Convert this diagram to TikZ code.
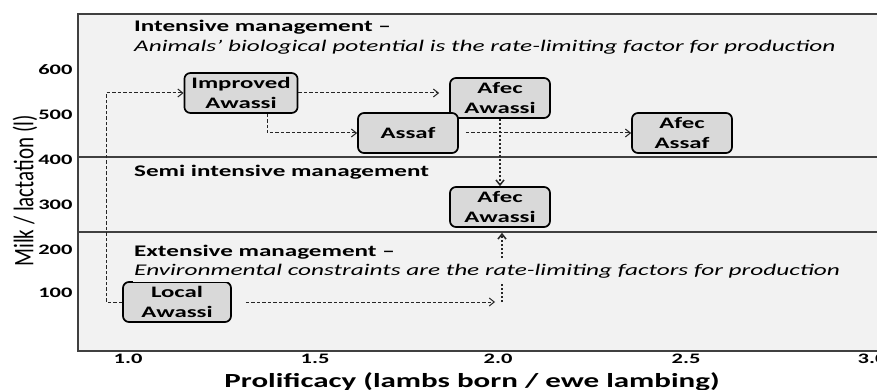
\documentclass[tikz,border=0pt]{standalone}
\usepackage{fontspec}
\setmainfont{Carlito}[FakeStretch=1.55]
\newfontfamily\plainfont{Carlito}
\usepackage{tikz}
\usetikzlibrary{calc}
\usetikzlibrary{arrows.meta}
\usetikzlibrary{positioning}

\definecolor{panel}{HTML}{F2F2F2}
\definecolor{boxfill}{HTML}{D9D9D9}
\definecolor{frame}{HTML}{404040}

\tikzset{
  breed/.style={rectangle, rounded corners=6pt, draw=black, line width=1.7pt, fill=boxfill, align=center,
    minimum width=100pt, minimum height=40pt, inner xsep=7pt, inner ysep=2pt, font=\bfseries\fontsize{16}{20}\selectfont},
  flow/.style={-{Straight Barb[length=5pt,width=8pt]}, dash pattern=on 3.5pt off 2pt, line width=1pt, draw=black!85},
  upflow/.style={flow, line width=1.5pt, dash pattern=on 2.5pt off 1.5pt},
  zone/.style={anchor=base west, inner sep=1pt, font=\bfseries\fontsize{16.2}{20}\selectfont},
  note/.style={anchor=base west, fill=panel, inner xsep=1pt, inner ysep=4pt, font=\itshape\fontsize{16.3}{20}\selectfont},
  tick/.style={font=\bfseries\fontsize{14.5}{16}\selectfont}
}

\begin{document}
\begin{tikzpicture}[x=1pt, y=-1pt]
\useasboundingbox (0,0) rectangle (877,390);
\clip (0,0) rectangle (877,390);
% plot area and management bands
\fill [panel] (78,14) rectangle (890,351);
\draw [frame, line width=1.6pt] (890,14) -- (78,14) -- (78,351) -- (890,351);
\draw [frame, line width=1.2pt] (78,157) -- (890,157);
\draw [frame, line width=1.2pt] (78,232) -- (890,232);

% axes
\foreach \v/\y in {600/70, 500/115, 400/160, 300/205, 200/250, 100/293}
  \node [tick, anchor=east] (y\v) at (76,\y) {\v};
\foreach \p/\x [count=\i] in {1.0/128, 1.5/315, 2.0/498, 2.5/686, 3.0/872}
  \node [tick] (x\i) at (\x,359) {\p};
\node [anchor=base, font=\bfseries\fontsize{20}{22}\selectfont] (xlabel) at (472,387) {Prolificacy (lambs born / ewe lambing)};
\node [rotate=90] (ylabel) at (25,191) {\scalebox{1}[1.35]{\plainfont\fontsize{21}{23}\selectfont Milk / lactation (l)}};

% breeds
\node [breed] (improved) at (241,93) {Improved\\Awassi};
\node [breed] (afectop) at (500,98) {Afec\\Awassi};
\node [breed] (assaf) at (408,133) {Assaf};
\node [breed] (afecassaf) at (682,133) {Afec\\Assaf};
\node [breed] (afecmid) at (500,207) {Afec\\Awassi};
\node [breed, minimum width=108pt] (local) at (177,302) {Local\\Awassi};

% breeding paths
\coordinate (junction) at (502,302);
\draw [flow] (local.west) -- ++(-16,0) |- (improved.west);
\draw [flow, shorten >=10pt] (improved.east) -- (improved.east -| afectop.west);
\draw [flow] ([xshift=26pt]improved.south) |- (assaf.west);
\draw [flow, shorten <=7pt] (assaf.east) -- (afecassaf.west);
\draw [upflow] (afectop.south) -- (afecmid.north);
\draw [flow, shorten <=14pt, shorten >=7pt] (local.east) -- (junction);
\draw [upflow, shorten >=5pt] (junction) -- (junction |- afecmid.south);

% management levels
\node [zone] (intensive) at (133,32) {Intensive management –};
\node [note] (intensivenote) at (133,52) {Animals’ biological potential is the rate-limiting factor for production};
\node [zone] (semi) at (133,177) {Semi intensive management};
\node [zone] (extensive) at (133,256) {Extensive management –};
\node [note] (extensivenote) at (133,275) {Environmental constraints are the rate-limiting factors for production};
\end{tikzpicture}
\end{document}
